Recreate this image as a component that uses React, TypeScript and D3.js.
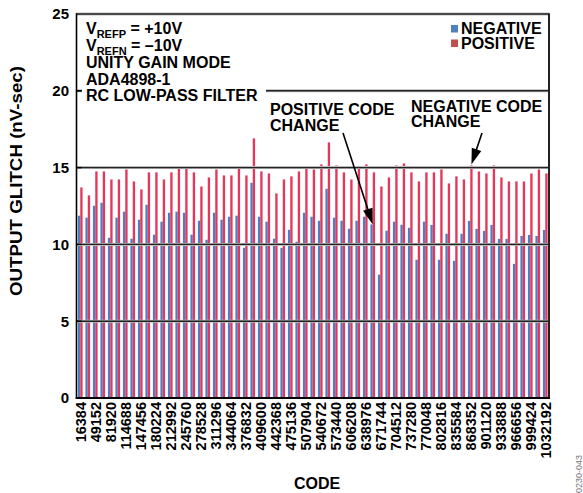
import React from 'react';
import * as d3 from 'd3';

const codes: number[] = [
  16384, 32768, 49152, 65536, 81920, 98304, 114688, 131072, 147456, 163840,
  180224, 196608, 212992, 229376, 245760, 262144, 278528, 294912, 311296, 327680,
  344064, 360448, 376832, 393216, 409600, 425984, 442368, 458752, 475136, 491520,
  507904, 524288, 540672, 557056, 573440, 589824, 606208, 622592, 638976, 655360,
  671744, 688128, 704512, 720896, 737280, 753664, 770048, 786432, 802816, 819200,
  835584, 851968, 868352, 884736, 901120, 917504, 933888, 950272, 966656, 983040,
  999424, 1015808, 1032192,
];

const tickLabels: number[] = [
  16384, 49152, 81920, 114688, 147456, 180224, 212992, 245760, 278528, 311296,
  344064, 376832, 409600, 442368, 475136, 507904, 540672, 573440, 606208, 638976,
  671744, 704512, 737280, 770048, 802816, 835584, 868352, 901120, 933888, 966656,
  999424, 1032192,
];

const negative: number[] = [
  11.87, 11.74, 12.52, 12.71, 10.43, 11.74, 12.13, 10.37, 11.61, 12.58,
  10.63, 11.48, 12.06, 12.13, 12.06, 10.63, 11.54, 10.30, 12.06, 11.61,
  11.80, 11.87, 9.78, 14.01, 11.80, 11.48, 10.37, 9.78, 10.95, 10.17,
  12.06, 11.80, 11.54, 13.62, 11.74, 11.54, 11.02, 11.54, 11.80, 11.30,
  8.03, 10.89, 11.48, 11.28, 11.08, 9.00, 11.48, 11.27, 9.00, 10.69,
  8.93, 10.69, 11.53, 11.01, 10.88, 11.27, 10.36, 10.36, 8.73, 10.55,
  10.62, 10.55, 10.94,
];

const positive: number[] = [
  13.71, 13.19, 14.75, 14.75, 14.23, 14.23, 14.88, 14.10, 13.58, 14.69,
  14.69, 14.23, 14.69, 15.01, 15.01, 14.69, 13.77, 14.36, 14.88, 14.49,
  14.49, 15.01, 14.49, 16.90, 14.75, 14.62, 13.32, 14.23, 14.43, 14.75,
  14.95, 14.88, 15.21, 16.64, 15.14, 14.69, 14.23, 14.95, 15.21, 14.69,
  13.77, 14.36, 15.14, 15.27, 14.69, 14.10, 14.69, 14.69, 14.88, 13.97,
  14.43, 14.23, 15.14, 14.75, 14.62, 15.14, 14.36, 14.10, 14.10, 14.10,
  14.62, 14.88, 14.62,
];

const yTicks: number[] = [0, 5, 10, 15, 20, 25];
const gridValues: number[] = [5, 10, 15, 20];

const FONT = '"Liberation Sans", Arial, Helvetica, sans-serif';

function arrowHead(x0: number, y0: number, x1: number, y1: number, len = 16, half = 5) {
  const dx = x1 - x0, dy = y1 - y0;
  const d = Math.hypot(dx, dy);
  const ux = dx / d, uy = dy / d;
  const bx = x1 - ux * len, by = y1 - uy * len;
  const px = -uy, py = ux;
  return {
    line: { x1: x0, y1: y0, x2: bx + ux * 2, y2: by + uy * 2 },
    pts: `${x1},${y1} ${bx + px * half},${by + py * half} ${bx - px * half},${by - py * half}`,
  };
}

export default function App() {
  const W = 583, H = 493;
  const left = 76.5, right = 549, top = 14, bottom = 398;
  const x = d3.scaleBand<number>().domain(codes).range([left, right]).padding(0);
  const x1 = d3.scaleBand<string>().domain(['neg', 'pos']).range([0, x.bandwidth()]).paddingInner(0).paddingOuter(0.6);
  const y = d3.scaleLinear().domain([0, 25]).range([bottom, top]);

  const blue = '#4D7EC3';
  const red = '#E5375B';

  const posIdx = codes.indexOf(655360);
  const posTip = { x: (x(655360) as number) + (x1('neg') as number) + x1.bandwidth(), y: y(negative[posIdx]) };
  const negIdx = codes.indexOf(868352);
  const negTip = { x: (x(868352) as number) + (x1('pos') as number) + x1.bandwidth() / 2, y: y(positive[negIdx]) - 1 };
  const a1 = arrowHead(343, 133, posTip.x, posTip.y);
  const a2 = arrowHead(482, 133, negTip.x, negTip.y);

  return (
    <svg width={W} height={H} style={{ position: 'absolute', left: 0, top: 0, background: '#fff' }}
      fontFamily={FONT} fontWeight="bold">
      <rect x={0} y={0} width={W} height={H} fill="#fff" />
      {codes.map((c, i) => (
        <g key={c} transform={`translate(${x(c)},0)`}>
          <rect x={x1('neg')} y={y(negative[i])} width={x1.bandwidth()} height={bottom - y(negative[i])} fill={blue} />
          <rect x={x1('pos')} y={y(positive[i])} width={x1.bandwidth()} height={bottom - y(positive[i])} fill={red} />
        </g>
      ))}
      {gridValues.map((v) => (
        <g key={v}>
          <line x1={left} x2={right} y1={y(v)} y2={y(v)} stroke="#bbb" strokeWidth={3} />
          <line x1={left} x2={right} y1={y(v)} y2={y(v)} stroke="#222" strokeWidth={1.4} />
        </g>
      ))}
      <rect x={82} y={16} width={184} height={90} fill="#fff" />
      {yTicks.map((v) => (
        <line key={v} x1={left} x2={left + 5} y1={y(v)} y2={y(v)} stroke="#000" strokeWidth={1.4} />
      ))}
      <line x1={left} x2={right} y1={top} y2={top} stroke="#bbb" strokeWidth={3} />
      <line x1={left} x2={right} y1={top} y2={top} stroke="#222" strokeWidth={1.4} />
      <line x1={right} x2={right} y1={top - 0.7} y2={bottom + 1} stroke="#222" strokeWidth={2} />
      <line x1={left} x2={left} y1={top - 0.7} y2={bottom + 1} stroke="#000" strokeWidth={1.6} />
      <line x1={left - 0.8} x2={right + 1} y1={bottom} y2={bottom} stroke="#000" strokeWidth={2.2} />

      {yTicks.map((v) => (
        <text key={v} x={69} y={y(v)} dy="0.36em" textAnchor="end" fontSize={15} fill="#000">{v}</text>
      ))}
      {tickLabels.map((c) => {
        const cx = (x(c) as number) + x.bandwidth() / 2 + 5.5;
        return (
          <text key={c} transform={`translate(${cx},${bottom + 4}) rotate(-90)`} textAnchor="end" fontSize={14.5} fill="#000">{c}</text>
        );
      })}
      <text x={317} y={489} textAnchor="middle" fontSize={16} fill="#000">CODE</text>
      <text transform={`translate(21.5,181) rotate(-90)`} textAnchor="middle" fontSize={17} fill="#000"
        textLength={230} lengthAdjust="spacingAndGlyphs">OUTPUT GLITCH (nV-sec)</text>

      <g fontSize={16} fill="#000">
        <text x={86} y={34}>V<tspan fontSize={11} dy={4}>REFP</tspan><tspan dy={-4}> = +10V</tspan></text>
        <text x={86} y={50.5}>V<tspan fontSize={11} dy={4}>REFN</tspan><tspan dy={-4}> = –10V</tspan></text>
        <text x={86} y={67.5}>UNITY GAIN MODE</text>
        <text x={86} y={84.5}>ADA4898-1</text>
        <text x={86} y={101}>RC LOW-PASS FILTER</text>
      </g>

      <rect x={451} y={25} width={7} height={7.5} fill="#4F81BD" />
      <text x={461} y={33.5} fontSize={16} fill="#000">NEGATIVE</text>
      <rect x={451} y={39.5} width={7} height={7.5} fill="#C0504D" />
      <text x={461} y={49} fontSize={16} fill="#000">POSITIVE</text>

      <text x={270} y={115} fontSize={16} fill="#000">POSITIVE CODE</text>
      <text x={270} y={131} fontSize={16} fill="#000">CHANGE</text>
      <text x={411} y={111.5} fontSize={16} fill="#000">NEGATIVE CODE</text>
      <text x={411} y={127} fontSize={16} fill="#000">CHANGE</text>
      <line {...a1.line} stroke="#000" strokeWidth={1.6} />
      <polygon points={a1.pts} fill="#000" />
      <line {...a2.line} stroke="#000" strokeWidth={1.6} />
      <polygon points={a2.pts} fill="#000" />

      <text transform={`translate(582,498) rotate(-90)`} fontSize={9} fontWeight="normal" fill="#777">10230-043</text>
    </svg>
  );
}
